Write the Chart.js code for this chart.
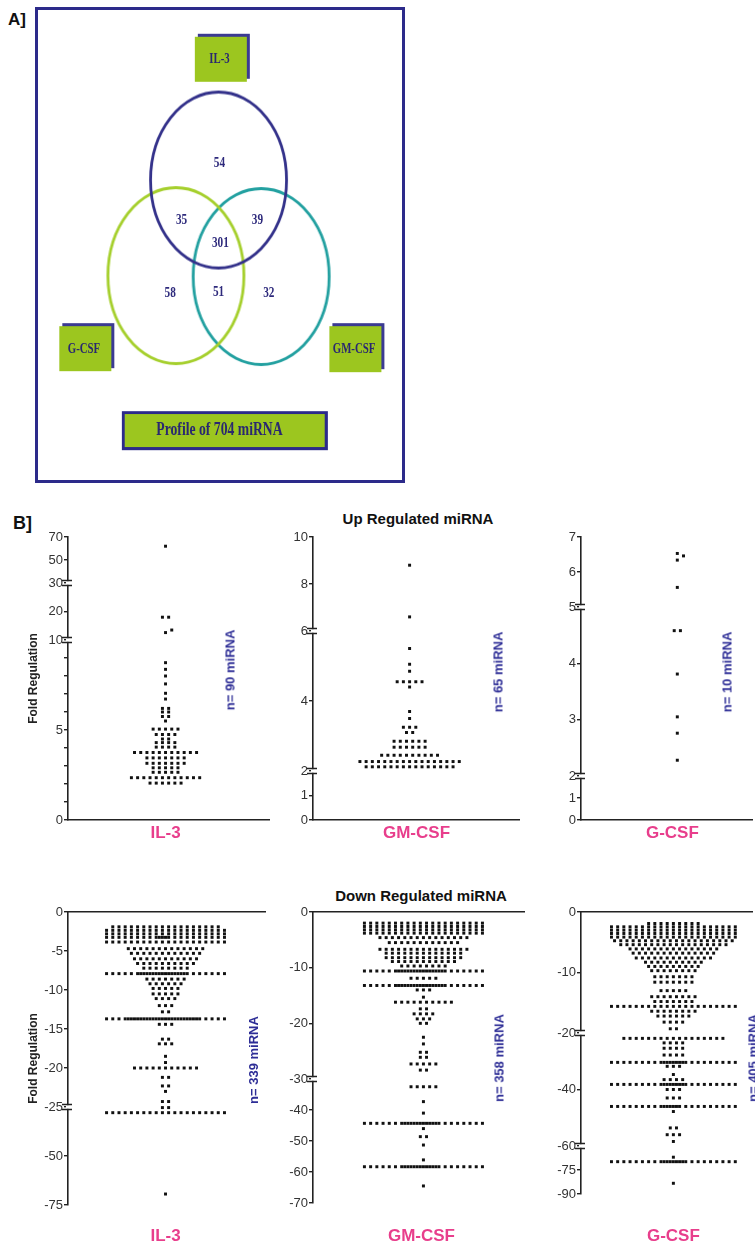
<!DOCTYPE html>
<html>
<head>
<meta charset="utf-8">
<script src="https://cdn.jsdelivr.net/npm/chart.js@4.4.0/dist/chart.umd.min.js"></script>
<style>
body { margin: 0; background: #fff; width: 755px; height: 1245px; overflow: hidden; position: relative; font-family: "Liberation Sans", Arial, sans-serif; }
canvas { position: absolute; }
.txt { position: absolute; white-space: nowrap; color: #111; font-weight: bold; }
.rot { position: absolute; white-space: nowrap; color: #2d2d96; font: bold 13px "Liberation Sans", Arial, sans-serif; transform: translate(-50%, -50%) rotate(-90deg); }
.ctr { transform: translate(-50%, -50%); }
</style>
</head>
<body>
<div class="txt" style="left:8px;top:10px;font-size:17px;">A]</div>
<div style="position:absolute;left:35px;top:7px;width:364px;height:470px;border:3px solid #2c2a8a;"></div>
<canvas id="venn" width="420" height="490" style="left:0;top:0;"></canvas>

<div class="txt" style="left:13px;top:513px;font-size:18px;">B]</div>
<div class="txt ctr" style="left:418px;top:518px;font-size:15px;">Up Regulated miRNA</div>
<div class="txt ctr" style="left:421px;top:895px;font-size:15px;">Down Regulated miRNA</div>

<script>
// ---------- panel A data ----------
var vennSets = ['IL-3', 'G-CSF', 'GM-CSF'];
var vennRegions = ['IL-3 only', 'IL-3 + G-CSF', 'IL-3 + GM-CSF', 'all three', 'G-CSF only', 'G-CSF + GM-CSF', 'GM-CSF only'];
var vennCounts = [54, 35, 39, 301, 58, 51, 32];
var vennTitle = 'Profile of 704 miRNA';

// ---------- panel B data ----------
var groups = ['IL-3', 'GM-CSF', 'G-CSF'];
var upCounts = [90, 65, 10];
var downCounts = [339, 358, 405];

// rows of [fold regulation, number of miRNA at that value]
var il3Up = [[62, 1], [18, 2], [12.6, 1], [13.5, 1], [8.74, 1], [8.37, 1], [8.0, 1], [7.56, 1], [7.04, 1], [6.72, 1],
  [6.2, 2], [6.0, 2], [5.75, 2], [5.5, 1], [5.05, 5], [4.75, 4], [4.5, 2], [4.3, 4], [4.05, 4],
  [3.75, 11], [3.45, 7], [3.15, 7], [2.9, 5], [2.65, 5], [2.35, 12], [2.05, 6]];
var gmUp = [[8.8, 1], [6.6, 1], [5.5, 1], [5.05, 1], [4.85, 1], [4.55, 5], [4.4, 1], [3.7, 1], [3.5, 1],
  [3.25, 3], [3.1, 2], [2.85, 6], [2.68, 6], [2.45, 10], [2.27, 17], [2.12, 15]];
var gUp = [[6.53, 1], [6.46, 1], [6.34, 1], [5.56, 1], [4.58, 2], [3.81, 1], [3.05, 1], [2.76, 1], [2.28, 1]];

var il3Down = [[-1.9, 18], [-2.35, 20], [-2.8, 20], [-3.25, 22], [-3.85, 20], [-4.7, 13], [-5.3, 12], [-6.0, 11],
  [-6.6, 10], [-7.2, 8], [-7.9, 28], [-8.6, 7], [-9.2, 6], [-9.8, 5], [-10.5, 5], [-11.1, 4], [-12.0, 3],
  [-12.8, 2], [-13.7, 32], [-14.4, 3], [-16.3, 2], [-16.9, 3], [-18.5, 1], [-19.3, 1], [-20.0, 11],
  [-21.2, 2], [-22.3, 2], [-23.0, 1], [-24.3, 2], [-25.3, 2], [-27.9, 20], [-69.4, 1]];
var gmDown = [[-2.0, 20], [-2.6, 20], [-3.2, 20], [-3.8, 20], [-4.6, 15], [-5.5, 12], [-6.7, 15], [-7.4, 13],
  [-8.2, 13], [-8.9, 11], [-9.7, 8], [-10.6, 28], [-11.9, 5], [-13.2, 28], [-14.0, 3], [-15.3, 1],
  [-16.2, 10], [-17.4, 2], [-18.3, 4], [-19.2, 3], [-20.0, 2], [-22.5, 1], [-23.7, 1], [-25.2, 2],
  [-26.1, 2], [-27.3, 5], [-28.4, 2], [-32.5, 5], [-37.3, 1], [-41, 1], [-44.3, 26], [-46, 1],
  [-48.6, 2], [-51.3, 1], [-56.1, 1], [-58.3, 26], [-64.5, 1]];
var gDown = [[-1.9, 9], [-2.45, 21], [-3.0, 21], [-3.55, 21], [-4.15, 21], [-4.75, 20], [-5.4, 18], [-6.1, 15],
  [-6.8, 14], [-7.6, 13], [-8.3, 10], [-9.0, 9], [-9.7, 8], [-10.7, 7], [-11.6, 7], [-13.0, 5], [-14.0, 8],
  [-14.8, 7], [-15.6, 21], [-16.4, 8], [-17.2, 6], [-18.2, 4], [-19.3, 2], [-21.9, 17], [-23.5, 4],
  [-25.4, 4], [-27.8, 4], [-30.4, 25], [-31.8, 3], [-34.7, 1], [-36.5, 4], [-38.2, 25], [-40.0, 3],
  [-43.0, 3], [-46.0, 24], [-47.8, 1], [-53.6, 2], [-56.0, 3], [-58.4, 1], [-67.0, 1], [-69.8, 25], [-83.3, 1]];

// axis ticks (labelled), unlabelled minor ticks and axis breaks
var il3UpTicks = [0, 5, 10, 20, 30, 50, 70], il3UpMinor = [1, 2, 3, 4, 6, 7, 8, 9], il3UpBreaks = [10, 30];
var gmUpTicks = [0, 1, 2, 4, 6, 8, 10], gmUpBreaks = [2, 6];
var gUpTicks = [0, 1, 2, 3, 4, 5, 6, 7], gUpBreaks = [2, 5];
var il3DownTicks = [0, -5, -10, -15, -20, -25, -50, -75], il3DownBreaks = [-25];
var gmDownTicks = [0, -10, -20, -30, -40, -50, -60, -70], gmDownBreaks = [-30];
var gDownTicks = [0, -10, -20, -40, -60, -75, -90], gDownBreaks = [-20, -60];

// ---------- layout ----------
Chart.defaults.font.family = '"Liberation Sans", Arial, sans-serif';
Chart.defaults.color = '#333';

var navy = '#2c2a8a', lime = '#9cc61f', pink = '#e83e8c';
var vennLayout = {
  centers: [[219, 177], [174, 277], [264, 278]],
  colors: ['#33318a', '#a5cf2c', '#22a0a0'],
  rx: 68, ry: 88,
  countPos: [[220, 159], [180, 219], [260, 219], [221, 243], [168, 295], [219, 294], [272, 295]],
  boxes: [[194, 27, 52, 45], [51, 330, 52, 45], [336, 330, 52, 46]]
};

// value -> page pixel, piecewise linear (broken axes)
function mapVal(knots, v) {
  for (var i = 0; i < knots.length - 1; i++) {
    var a = knots[i], b = knots[i + 1];
    if (v >= Math.min(a[0], b[0]) && v <= Math.max(a[0], b[0])) {
      return a[1] + (v - a[0]) * (b[1] - a[1]) / (b[0] - a[0]);
    }
  }
  var a = knots[knots.length - 2], b = knots[knots.length - 1];
  return a[1] + (v - a[0]) * (b[1] - a[1]) / (b[0] - a[0]);
}

// scatter dot plot: each row spread sideways around the centre
function layoutDots(rows, knots, cx, spacing, maxCols) {
  var pts = [];
  rows.forEach(function (row) {
    var y = mapVal(knots, row[0]), n = row[1];
    var base = Math.min(n, maxCols), offs = [], gaps = [];
    for (var i = 0; i < base; i++) offs.push(i - (base - 1) / 2);
    for (var i = 0; i < base - 1; i++) gaps.push(i - (base - 1) / 2 + 0.5);
    gaps.sort(function (a, b) { return Math.abs(a) - Math.abs(b); });
    for (var j = 0; j < n - base; j++) offs.push(gaps[j % gaps.length]);
    var shifts = [0, 1, -1, 2, -2], shift = 0;
    for (var s = 0; s < shifts.length; s++) {
      var hit = pts.some(function (p) {
        return Math.abs(p.y - y) < 3 && offs.some(function (o) {
          return Math.abs(p.x - (cx + (o + shifts[s]) * spacing)) < spacing - 0.5;
        });
      });
      if (!hit) { shift = shifts[s]; break; }
    }
    offs.forEach(function (o) { pts.push({ x: cx + (o + shift) * spacing, y: y }); });
  });
  return pts;
}

var plots = [
  { rows: il3Up, ticks: il3UpTicks, minor: il3UpMinor, breaks: il3UpBreaks, knots: [[0, 820], [10, 640], [30, 583], [70, 537]],
    up: true, group: 0, n: upCounts[0], axisX: 68, right: 272, cx: 167, labelX: 167, nX: 230, nY: 670, maxCols: 40, title: true },
  { rows: gmUp, ticks: gmUpTicks, minor: [], breaks: gmUpBreaks, knots: [[0, 820], [2, 771], [6, 631], [10, 537]],
    up: true, group: 1, n: upCounts[1], axisX: 313, right: 522, cx: 411, labelX: 418, nX: 498, nY: 672, maxCols: 40 },
  { rows: gUp, ticks: gUpTicks, minor: [], breaks: gUpBreaks, knots: [[0, 820], [2, 776], [5, 607], [7, 537]],
    up: true, group: 2, n: upCounts[2], axisX: 581, right: 755, cx: 679, labelX: 674, nX: 727, nY: 672, maxCols: 40 },
  { rows: il3Down, ticks: il3DownTicks, minor: [], breaks: il3DownBreaks, knots: [[0, 912], [-25, 1107], [-75, 1205]],
    up: false, group: 0, n: downCounts[0], axisX: 68, right: 268, cx: 167, labelX: 167, nX: 253, nY: 1060, maxCols: 20, title: true },
  { rows: gmDown, ticks: gmDownTicks, minor: [], breaks: gmDownBreaks, knots: [[0, 912], [-30, 1079], [-70, 1203]],
    up: false, group: 1, n: downCounts[1], axisX: 313, right: 527, cx: 425, labelX: 423, nX: 499, nY: 1058, maxCols: 20 },
  { rows: gDown, ticks: gDownTicks, minor: [], breaks: gDownBreaks, knots: [[0, 912], [-20, 1033], [-60, 1146], [-90, 1194]],
    up: false, group: 2, n: downCounts[2], axisX: 581, right: 755, cx: 675, labelX: 675, nX: 753, nY: 1058, maxCols: 21 }
];

// ---------- panel A ----------
function ellipseImage(rx, ry, color, lw) {
  var c = document.createElement('canvas');
  c.width = Math.ceil(2 * rx + lw + 4);
  c.height = Math.ceil(2 * ry + lw + 4);
  var g = c.getContext('2d');
  g.strokeStyle = color;
  g.lineWidth = lw;
  g.beginPath();
  g.ellipse(c.width / 2, c.height / 2, rx, ry, 0, 0, Math.PI * 2);
  g.stroke();
  return c;
}

function squeezeText(ctx, text, x, y, font, color, sx) {
  ctx.save();
  ctx.translate(x, y);
  ctx.scale(sx, 1);
  ctx.font = font;
  ctx.fillStyle = color;
  ctx.textAlign = 'center';
  ctx.textBaseline = 'middle';
  ctx.fillText(text, 0, 0);
  ctx.restore();
}

var vennText = {
  id: 'vennText',
  afterDatasetsDraw: function (chart) {
    var ctx = chart.ctx, xs = chart.scales.x, ys = chart.scales.y;
    var px = function (v) { return xs.getPixelForValue(v); };
    var py = function (v) { return ys.getPixelForValue(v); };
    vennLayout.boxes.forEach(function (b, i) {
      ctx.fillStyle = '#3b3a92';
      ctx.fillRect(px(b[0]) + 3, py(b[1]) - 3, b[2], b[3]);
      ctx.fillStyle = lime;
      ctx.fillRect(px(b[0]), py(b[1]), b[2], b[3]);
      squeezeText(ctx, vennSets[i], px(b[0] + b[2] / 2), py(b[1] + b[3] / 2 + 1), 'bold 15px "Liberation Serif"', '#2a2870', 0.72);
    });
    ctx.fillStyle = navy;
    ctx.fillRect(px(117), py(419), 206, 39);
    ctx.fillStyle = lime;
    ctx.fillRect(px(120), py(422), 200, 33);
    squeezeText(ctx, vennTitle, px(220), py(439), 'bold 19px "Liberation Serif"', '#2a2870', 0.72);
    vennCounts.forEach(function (c, i) {
      var p = vennLayout.countPos[i];
      squeezeText(ctx, String(c), px(p[0]), py(p[1]), 'bold 15px "Liberation Serif"', '#2e2a7c', 0.75);
    });
  }
};

new Chart(document.getElementById('venn'), {
  type: 'scatter',
  data: {
    datasets: vennSets.map(function (s, i) {
      return {
        label: s,
        data: [{ x: vennLayout.centers[i][0], y: vennLayout.centers[i][1] }],
        pointStyle: ellipseImage(vennLayout.rx, vennLayout.ry, vennLayout.colors[i], 2.8),
        pointRadius: 10
      };
    })
  },
  options: {
    responsive: false, animation: false, events: [],
    layout: { padding: 0 },
    plugins: { legend: { display: false }, tooltip: { enabled: false } },
    scales: {
      x: { display: false, min: 0, max: 420 },
      y: { display: false, min: 0, max: 490, reverse: true }
    }
  },
  plugins: [vennText]
});

// ---------- panel B ----------
var axisBreaks = {
  id: 'axisBreaks',
  afterDraw: function (chart, args, opts) {
    var ctx = chart.ctx, ys = chart.scales.y, x = chart.chartArea.left;
    opts.values.forEach(function (v) {
      var y = ys.getPixelForValue(v);
      ctx.save();
      ctx.fillStyle = '#fff';
      ctx.fillRect(x - 2, y - 1.8, 4, 3.6);
      ctx.strokeStyle = '#222';
      ctx.lineWidth = 1.4;
      ctx.beginPath();
      ctx.moveTo(x - 6, y - 2.5); ctx.lineTo(x + 4, y - 2.5);
      ctx.moveTo(x - 6, y + 2.5); ctx.lineTo(x + 4, y + 2.5);
      ctx.stroke();
      ctx.restore();
    });
  }
};

plots.forEach(function (p, k) {
  var yW = 46, padTop = 12;
  var top = p.up ? 537 : 912;
  var bottom = p.up ? 820 : p.knots[p.knots.length - 1][1];
  var bottomH = p.up ? 30 : 48;
  var cv = document.createElement('canvas');
  var left = p.axisX - yW;
  cv.width = p.right - left + 1;
  cv.height = padTop + (bottom - top) + bottomH;
  cv.style.left = left + 'px';
  cv.style.top = (top - padTop) + 'px';
  document.body.appendChild(cv);

  var tickVals = p.ticks.concat(p.minor);
  var tickLabels = p.ticks.map(String).concat(p.minor.map(function () { return ''; }));
  var catTick = function (axis) { axis.ticks = [{ value: p.labelX }]; };
  var catTicks = {
    display: true, autoSkip: false, maxRotation: 0,
    color: pink, font: { size: 17, weight: 'bold' },
    padding: p.up ? 3 : 1235 - 9 - bottom,
    callback: function () { return groups[p.group]; }
  };

  var scales = {
    y: {
      type: 'linear', position: 'left', min: top, max: bottom, reverse: true,
      afterFit: function (s) { s.width = yW; },
      afterBuildTicks: function (axis) {
        axis.ticks = tickVals.map(function (v) { return { value: mapVal(p.knots, v) }; });
      },
      ticks: {
        autoSkip: false, padding: 1, color: '#333', font: { size: 13 },
        callback: function (val, i) { return tickLabels[i]; }
      },
      grid: { drawOnChartArea: false, drawTicks: true, tickLength: 4, color: '#222', lineWidth: 1.4 },
      border: { display: true, color: '#222', width: 1.6 },
      title: {
        display: !!p.title, text: 'Fold Regulation', color: '#222',
        font: { size: 12, weight: 'bold' }, padding: { top: 4, bottom: 0 }
      }
    },
    x: {
      type: 'linear', position: p.up ? 'bottom' : 'top', min: p.axisX, max: p.right,
      afterFit: function (s) { s.height = p.up ? bottomH : 0; },
      afterBuildTicks: catTick,
      ticks: p.up ? catTicks : { display: false },
      grid: { display: false, drawTicks: false },
      border: { display: true, color: '#222', width: 1.6 }
    }
  };
  if (!p.up) {
    scales.xb = {
      type: 'linear', position: 'bottom', min: p.axisX, max: p.right,
      afterFit: function (s) { s.height = bottomH; },
      afterBuildTicks: catTick,
      ticks: catTicks,
      grid: { display: false, drawTicks: false },
      border: { display: false }
    };
  }

  new Chart(cv, {
    type: 'scatter',
    data: {
      datasets: [{
        label: groups[p.group],
        data: layoutDots(p.rows, p.knots, p.cx, 6.3, p.maxCols),
        xAxisID: 'x', yAxisID: 'y',
        pointStyle: 'rect', pointRadius: 2.1,
        backgroundColor: '#111', borderWidth: 0
      }]
    },
    options: {
      responsive: false, animation: false, events: [],
      layout: { padding: { top: padTop, left: 0, right: 0, bottom: 0 } },
      plugins: {
        legend: { display: false }, tooltip: { enabled: false },
        axisBreaks: { values: p.breaks.map(function (v) { return mapVal(p.knots, v); }) }
      },
      scales: scales
    },
    plugins: [axisBreaks]
  });

  var lab = document.createElement('div');
  lab.className = 'rot';
  lab.style.left = p.nX + 'px';
  lab.style.top = p.nY + 'px';
  lab.textContent = 'n= ' + p.n + ' miRNA';
  document.body.appendChild(lab);
});
</script>
</body>
</html>
